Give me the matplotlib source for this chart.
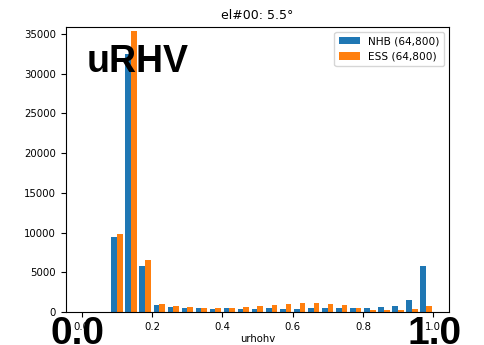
import numpy as np
import matplotlib.pyplot as plt

# histogram bins for urhohv (25 bins between 0 and 1)
bin_edges = np.linspace(0.0, 1.0, 26)
bin_centers = (bin_edges[:-1] + bin_edges[1:]) / 2

# counts per bin
nhb_counts = [0, 0, 9480, 32500, 5790, 880, 590, 500, 500, 380, 500, 380,
              380, 500, 380, 380, 500, 500, 500, 500, 500, 590, 800, 1470, 5800]
ess_counts = [0, 0, 9780, 35430, 6510, 1010, 760, 630, 500, 500, 500, 630,
              760, 840, 1010, 1130, 1130, 1010, 840, 500, 290, 210, 210, 380, 800]

labels = ['NHB (64,800)', 'ESS (64,800)']

fig = plt.figure(figsize=(4.84, 3.45), dpi=100)
ax = fig.add_axes([0.136, 0.096, 0.792, 0.826])

ax.hist([bin_centers, bin_centers], bins=bin_edges,
        weights=[nhb_counts, ess_counts], label=labels,
        color=['tab:blue', 'tab:orange'])
ax.set_ylim(0, 35900)
ax.set_xlabel('urhohv', fontsize=7.3, labelpad=2)
ax.set_title('el#00: 5.5°', fontsize=9)
ax.tick_params(labelsize=7.3)
ax.legend(loc='upper right', fontsize=7.6)

big = dict(family='Liberation Sans', weight='bold', color='black')
fig.text(0.178, 0.791, 'uRHV', fontsize=27, ha='left', va='baseline', **big)
fig.text(0.161, 0.003, '0.0', fontsize=28, ha='center', va='baseline', **big)
fig.text(0.897, 0.003, '1.0', fontsize=28, ha='center', va='baseline', **big)

fig.savefig('out.png', dpi=100)
